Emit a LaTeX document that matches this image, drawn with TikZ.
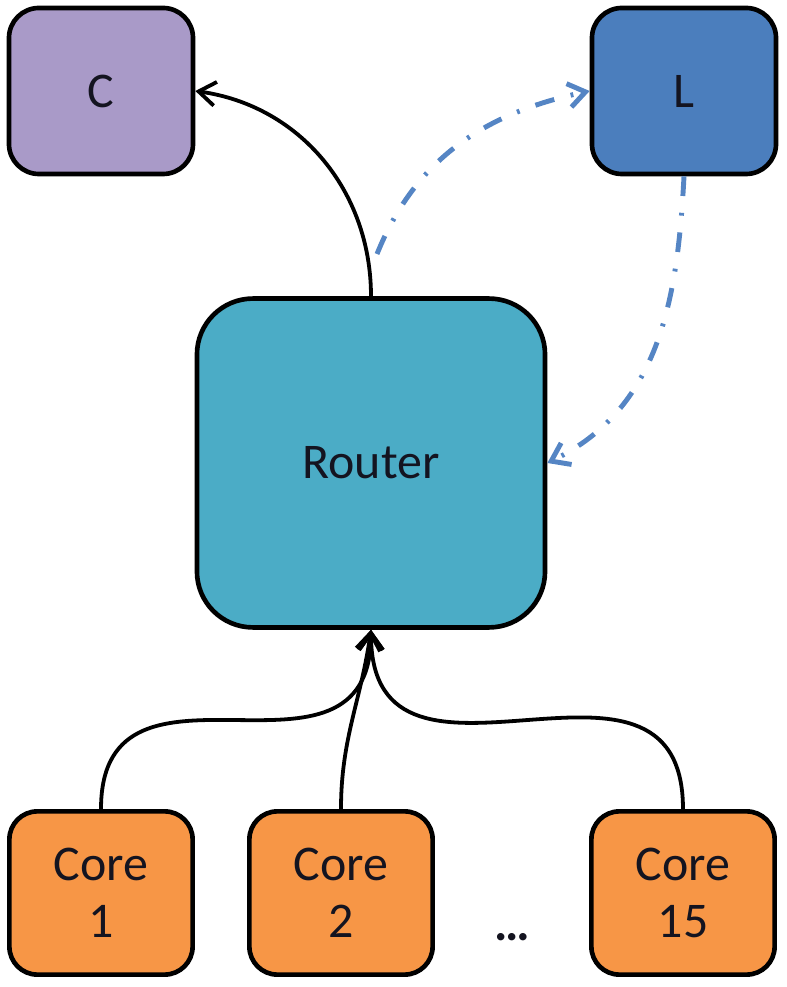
\documentclass[tikz,border=0pt]{standalone}
\usepackage{fontspec}
\setmainfont{Carlito}
\usepackage{tikz}
\usetikzlibrary{arrows.meta}

\definecolor{cpurple}{HTML}{A99AC8}
\definecolor{lblue}{HTML}{4B7EBD}
\definecolor{routercyan}{HTML}{4BACC6}
\definecolor{coreorange}{HTML}{F79646}
\definecolor{dashblue}{HTML}{5585C4}
\definecolor{labelink}{HTML}{141420}

\begin{document}
\begin{tikzpicture}[x=0.025cm, y=0.025cm,
    box/.style={draw=black, line width=3.3pt, rounded corners=0.75cm,
        text=labelink, align=center, font=\fontsize{35.5}{40.5}\selectfont},
    small/.style={box, minimum width=4.6cm, minimum height=4.15cm},
    corebox/.style={box, fill=coreorange, minimum width=4.58cm, minimum height=4.08cm, rounded corners=0.7cm},
    link/.style={line width=2.7pt, -{Straight Barb[length=12pt, width=17pt]}},
    backlink/.style={dashblue, line width=3.5pt, dash pattern=on 14pt off 12pt on 2pt off 12pt,
        -{Straight Barb[length=12pt, width=17pt]}}]
    \useasboundingbox (0,0) rectangle (787,987);

    % Draw the top boxes
    \node[small, fill=cpurple] (cbox) at (101,896) {C};
    \node[small, fill=lblue] (lbox) at (684,896) {L};

    % Draw the router
    \node[box, fill=routercyan, minimum width=8.7cm, minimum height=8.22cm, rounded corners=1.4cm] (router) at (371,524) {Router};

    % Draw the cores
    \node[corebox] (core1) at (101,94) {Core\\1};
    \node[corebox] (core2) at (341,94) {Core\\2};
    \node[corebox] (core15) at (683,94) {Core\\15};
    \node[font=\fontsize{35.5}{40.5}\selectfont\bfseries, text=labelink] (dots) at (512,50) {…};

    % Draw the core links
    \draw[link] (core1.north) to[out=90, in=-90, looseness=1.42] (router.south);
    \draw[link] (core2.north) to[out=90, in=-98] (router.south);
    \draw[link] (core15.north) to[out=90, in=-90, looseness=1.42] (router.south);

    % Draw the router link to C
    \draw[link] (router.north) to[out=90, in=-8] (cbox.east);

    % Draw the dash-dot links through L
    \coordinate (split) at (377,733);
    \draw[backlink] (split) to[out=68, in=192] (lbox.west);
    \draw[backlink] (lbox.south) to[out=-93, in=26] (router.east);
\end{tikzpicture}
\end{document}
